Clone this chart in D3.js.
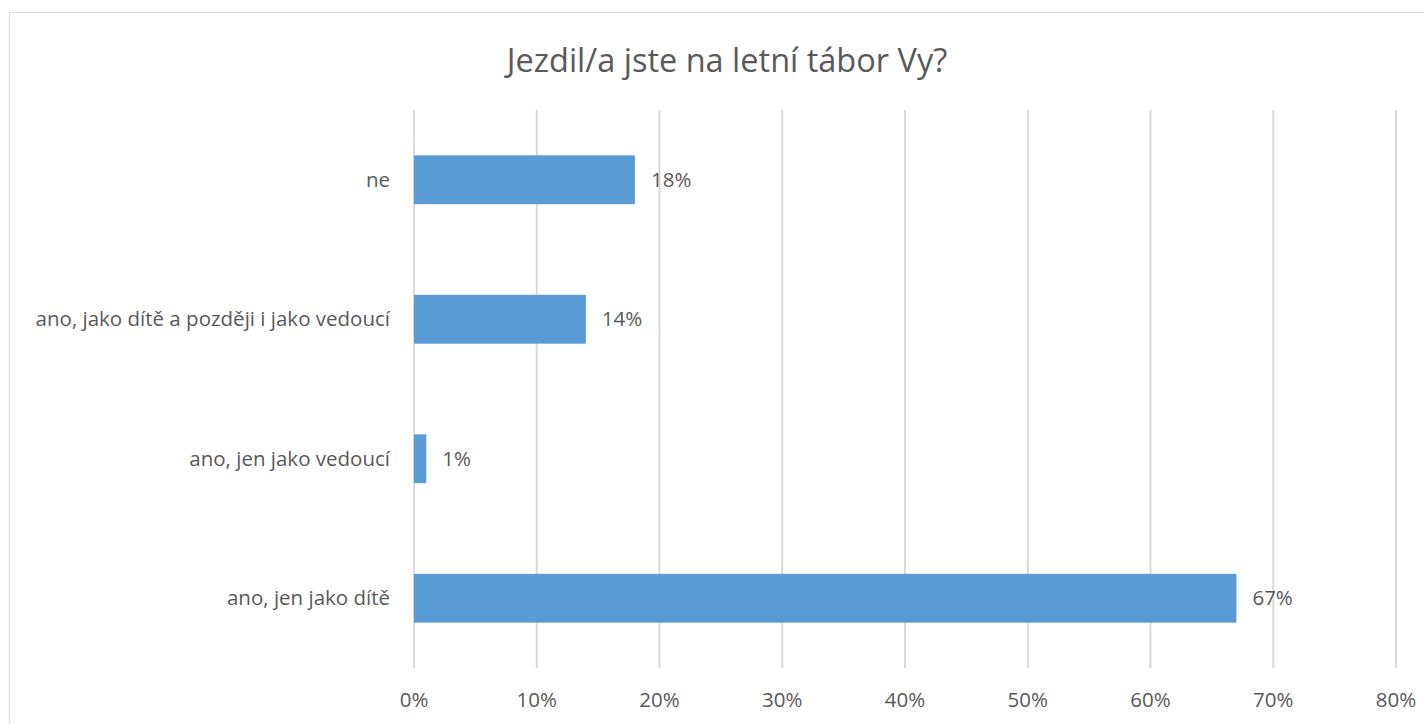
<!DOCTYPE html>
<html>
<head>
<meta charset="utf-8">
<script src="https://cdn.jsdelivr.net/npm/d3@7"></script>
<style>
  body { margin: 0; background: #fff; }
  text { font-family: "Open Sans", sans-serif; fill: #595959; }
</style>
</head>
<body>
<svg id="chart"></svg>
<script>
'use strict';

const categories = ['ne', 'ano, jako dítě a později i jako vedoucí', 'ano, jen jako vedoucí', 'ano, jen jako dítě'];
const values = [0.18, 0.14, 0.01, 0.67];
const ticks = [0, 0.1, 0.2, 0.3, 0.4, 0.5, 0.6, 0.7, 0.8];
const title = 'Jezdil/a jste na letní tábor Vy?';

const width = 1424, height = 724;
const plot = { left: 414, right: 1396, top: 110, bottom: 668 };

const svg = d3.select('#chart')
  .attr('width', width)
  .attr('height', height);

// chart frame
svg.append('rect')
  .attr('x', 9.5).attr('y', 12.5)
  .attr('width', width).attr('height', height)
  .attr('fill', 'none')
  .attr('stroke', '#d9d9d9')
  .attr('stroke-width', 1);

svg.append('text')
  .attr('x', 727).attr('y', 72)
  .attr('text-anchor', 'middle')
  .style('font-size', '32.5px')
  .text(title);

const x = d3.scaleLinear().domain([0, 0.8]).range([plot.left, plot.right]);
const y = d3.scaleBand().domain(categories).range([plot.top, plot.bottom]).paddingInner(0.65).paddingOuter(0.325);

// gridlines
svg.append('g')
  .selectAll('line')
  .data(ticks)
  .join('line')
  .attr('x1', d => x(d)).attr('x2', d => x(d))
  .attr('y1', plot.top).attr('y2', plot.bottom)
  .attr('stroke', '#d9d9d9')
  .attr('stroke-width', 2);

// x tick labels
svg.append('g')
  .selectAll('text')
  .data(ticks)
  .join('text')
  .attr('x', d => x(d))
  .attr('y', 707)
  .attr('text-anchor', 'middle')
  .style('font-size', '20.5px')
  .text(d3.format('.0%'));

// category labels
svg.append('g')
  .selectAll('text')
  .data(categories)
  .join('text')
  .attr('x', plot.left - 24)
  .attr('y', d => y(d) + y.bandwidth() / 2)
  .attr('dy', '0.35em')
  .attr('text-anchor', 'end')
  .style('font-size', '20.5px')
  .text(d => d);

// bars
svg.append('g')
  .selectAll('rect')
  .data(categories)
  .join('rect')
  .attr('x', x(0))
  .attr('y', d => y(d))
  .attr('width', (d, i) => x(values[i]) - x(0))
  .attr('height', y.bandwidth())
  .attr('fill', '#5b9bd5');

// value labels
svg.append('g')
  .selectAll('text')
  .data(categories)
  .join('text')
  .attr('x', (d, i) => x(values[i]) + 16)
  .attr('y', d => y(d) + y.bandwidth() / 2)
  .attr('dy', '0.35em')
  .style('font-size', '20.5px')
  .text((d, i) => d3.format('.0%')(values[i]));
</script>
</body>
</html>
